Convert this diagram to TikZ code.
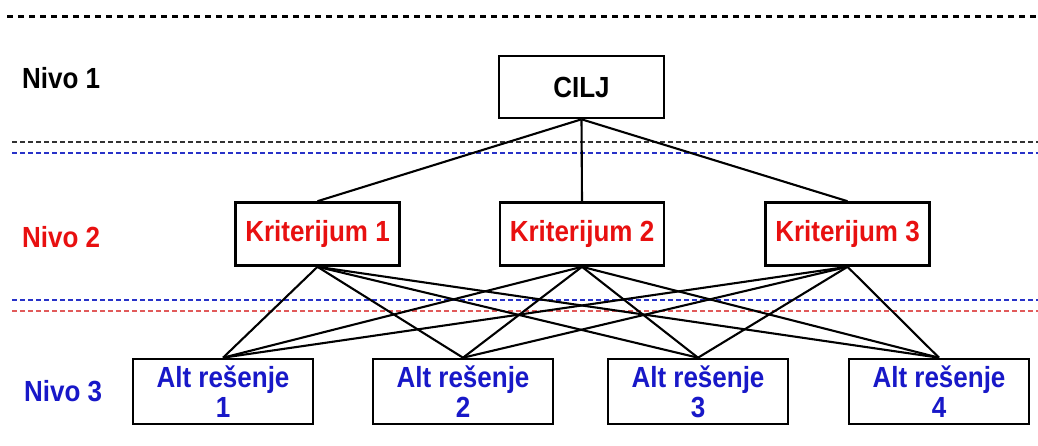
\documentclass[tikz,border=0pt]{standalone}
\usepackage{fontspec}
\usepackage{graphicx}
\setmainfont{Liberation Sans}
\newcommand\tallt[1]{\scalebox{1}[1.12]{#1}}
\definecolor{tred}{RGB}{232,16,16}
\definecolor{tblue}{RGB}{24,24,200}
\definecolor{lblue}{RGB}{40,50,200}
\definecolor{lred}{RGB}{225,90,90}
\definecolor{lgray}{RGB}{50,50,50}
\begin{document}
\begin{tikzpicture}[x=1pt,y=-1pt,
  every node/.style={font=\fontsize{26}{30}\selectfont\bfseries, inner sep=0pt},
  box/.style={draw=black, line width=2.6pt, fill=white, align=center},
  goal/.style={box, minimum width=165pt, minimum height=62pt},
  crit/.style={box, minimum width=164pt, minimum height=63pt, text=tred},
  alt/.style={box, minimum width=180pt, minimum height=65pt, text=tblue},
  link/.style={draw=black, line width=2.1pt},
  sep/.style={line width=2.6pt, dash pattern=on 4.5pt off 3.5pt},
  topsep/.style={line width=3pt, dash pattern=on 6pt off 5pt}
]
\useasboundingbox (0,0) rectangle (1038,445);
% separator lines
\coordinate (t0) at (7,16); \coordinate (t1) at (1038,16);
\coordinate (a0) at (12,142); \coordinate (a1) at (1038,142);
\coordinate (b0) at (12,153); \coordinate (b1) at (1038,153);
\coordinate (c0) at (12,300); \coordinate (c1) at (1038,300);
\coordinate (d0) at (12,311); \coordinate (d1) at (1038,311);
\draw[topsep, black] (t0) -- (t1);
\draw[sep, lgray] (a0) -- (a1);
\draw[sep, lblue] (b0) -- (b1);
\draw[sep, lblue] (c0) -- (c1);
\draw[sep, lred] (d0) -- (d1);

% level labels
\node[anchor=west] (n1) at (22,78) {\tallt{Nivo 1}};
\node[anchor=west, text=tred] (n2) at (22,237) {\tallt{Nivo 2}};
\node[anchor=west, text=tblue] (n3) at (24,391) {\tallt{Nivo 3}};

% nodes
\node[goal] (g) at (581.5,87) {\tallt{CILJ}};
\node[crit] (k1) at (317.5,234) {\tallt{Kriterijum 1}};
\node[crit] (k2) at (582,234) {\tallt{Kriterijum 2}};
\node[crit] (k3) at (847.5,234) {\tallt{Kriterijum 3}};
\node[alt] (a1) at (223,391.5) {\tallt{Alt rešenje}\\\tallt{1}};
\node[alt] (a2) at (463,391.5) {\tallt{Alt rešenje}\\\tallt{2}};
\node[alt] (a3) at (698,391.5) {\tallt{Alt rešenje}\\\tallt{3}};
\node[alt] (a4) at (939,391.5) {\tallt{Alt rešenje}\\\tallt{4}};

% connectors
\foreach \k in {k1,k2,k3} {\draw[link] (g.south) -- (\k.north);}
\foreach \k in {k1,k2,k3} {
  \foreach \a in {a1,a2,a3,a4} {\draw[link] (\k.south) -- (\a.north);}
}
\end{tikzpicture}
\end{document}
